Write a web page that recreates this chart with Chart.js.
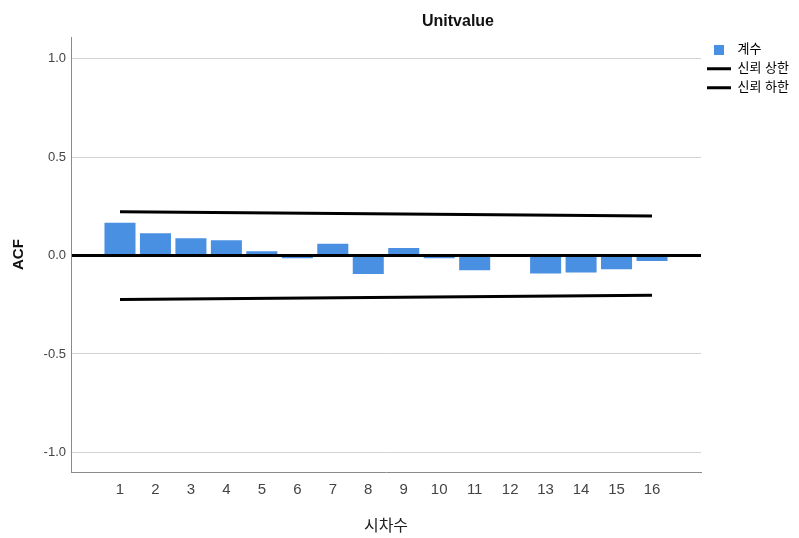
<!DOCTYPE html>
<html>
<head>
<meta charset="utf-8">
<script src="https://cdn.jsdelivr.net/npm/chart.js@4/dist/chart.umd.min.js"></script>
<style>
  html, body { margin: 0; padding: 0; background: #ffffff; }
  #wrap { width: 799px; height: 538px; }
</style>
</head>
<body>
<div id="wrap"><canvas id="c" width="799" height="538"></canvas></div>
<script>
// ---- data ----
const chartTitle = "Unitvalue";
const lags = [1, 2, 3, 4, 5, 6, 7, 8, 9, 10, 11, 12, 13, 14, 15, 16];
const acfValues = [0.167, 0.113, 0.088, 0.078, 0.022, -0.013, 0.060, -0.093, 0.038, -0.014, -0.074, 0.000, -0.091, -0.086, -0.070, -0.028];
const confLags = [1, 16];
const upperLimit = [0.223, 0.201];
const lowerLimit = [-0.223, -0.201];
const yTickValues = [-1.0, -0.5, 0.0, 0.5, 1.0];
const seriesNames = ["계수", "신뢰 상한", "신뢰 하한"];
const xAxisTitle = "시차수";
const yAxisTitle = "ACF";

const FONT = 'Arial, "Liberation Sans", "Noto Sans CJK KR", sans-serif';
const BAR_COLOR = '#4a90e2';

// legend swatch for the bar series
const swatch = document.createElement('canvas');
swatch.width = 10; swatch.height = 10;
(function(){ const g = swatch.getContext('2d'); g.fillStyle = BAR_COLOR; g.fillRect(0,0,10,10); })();

const titleShift = {
  id: 'titleShift',
  afterLayout(chart) {
    if (chart.titleBlock) { chart.titleBlock.left = 117; chart.titleBlock.right = 799; }
  }
};

new Chart(document.getElementById('c'), {
  type: 'bar',
  data: {
    datasets: [
      {
        type: 'bar',
        label: seriesNames[0],
        data: lags.map((l, i) => ({ x: l, y: acfValues[i] })),
        backgroundColor: BAR_COLOR,
        borderWidth: 0,
        barPercentage: 0.875,
        categoryPercentage: 1.0
      },
      {
        type: 'line',
        label: seriesNames[1],
        data: confLags.map((l, i) => ({ x: l, y: upperLimit[i] })),
        borderColor: '#000000',
        borderWidth: 3,
        pointRadius: 0,
        fill: false
      },
      {
        type: 'line',
        label: seriesNames[2],
        data: confLags.map((l, i) => ({ x: l, y: lowerLimit[i] })),
        borderColor: '#000000',
        borderWidth: 3,
        pointRadius: 0,
        fill: false
      }
    ]
  },
  options: {
    responsive: false,
    animation: false,
    events: [],
    layout: { padding: { top: 0, left: 0, bottom: 0, right: 3 } },
    plugins: {
      title: {
        display: true,
        text: chartTitle,
        color: '#111111',
        font: { family: FONT, size: 16, weight: 'bold', lineHeight: 1.2 },
        padding: { top: 12, bottom: 6 }
      },
      legend: {
        display: true,
        position: 'right',
        align: 'start',
        fullSize: false,
        maxWidth: 95,
        labels: {
          usePointStyle: true,
          pointStyleWidth: 24,
          padding: 6,
          color: '#333333',
          font: { family: FONT, size: 13 },
          generateLabels(chart) {
            return chart.data.datasets.map((ds, i) => ({
              text: ds.label,
              datasetIndex: i,
              hidden: false,
              fillStyle: i === 0 ? BAR_COLOR : '#000000',
              strokeStyle: i === 0 ? BAR_COLOR : '#000000',
              lineWidth: i === 0 ? 0 : 3,
              pointStyle: i === 0 ? swatch : 'line'
            }));
          }
        }
      },
      tooltip: { enabled: false }
    },
    scales: {
      x: {
        type: 'linear',
        min: 1 - 1.381,
        max: 16 + 1.381,
        offset: false,
        afterBuildTicks(scale) { scale.ticks = lags.map(v => ({ value: v })); },
        afterFit(scale) { scale.height = 66; },
        grid: { display: false, drawTicks: false },
        border: { display: true, color: '#8a8a8a', width: 1 },
        ticks: {
          autoSkip: false,
          maxRotation: 0,
          padding: 9,
          color: '#444444',
          font: { family: FONT, size: 15 },
          callback: v => String(v)
        },
        title: {
          display: true,
          text: xAxisTitle,
          color: '#222222',
          font: { family: FONT, size: 16 },
          padding: { top: 0, bottom: 2 }
        }
      },
      y: {
        type: 'linear',
        min: -1.10,
        max: 1.11,
        z: 1,
        afterBuildTicks(scale) { scale.ticks = yTickValues.map(v => ({ value: v })); },
        afterFit(scale) { scale.width = 71; },
        grid: {
          drawTicks: false,
          color: ctx => (ctx.tick && ctx.tick.value === 0) ? '#000000' : '#d2d2d2',
          lineWidth: ctx => (ctx.tick && ctx.tick.value === 0) ? 3 : 1
        },
        border: { display: true, color: '#8a8a8a', width: 1 },
        ticks: {
          padding: 5,
          color: '#444444',
          font: { family: FONT, size: 13 },
          callback: v => Number(v).toFixed(1)
        },
        title: {
          display: true,
          text: yAxisTitle,
          color: '#111111',
          font: { family: FONT, size: 15, weight: 'bold' },
          padding: { top: 10, bottom: 0 }
        }
      }
    }
  },
  plugins: [titleShift]
});
</script>
</body>
</html>
